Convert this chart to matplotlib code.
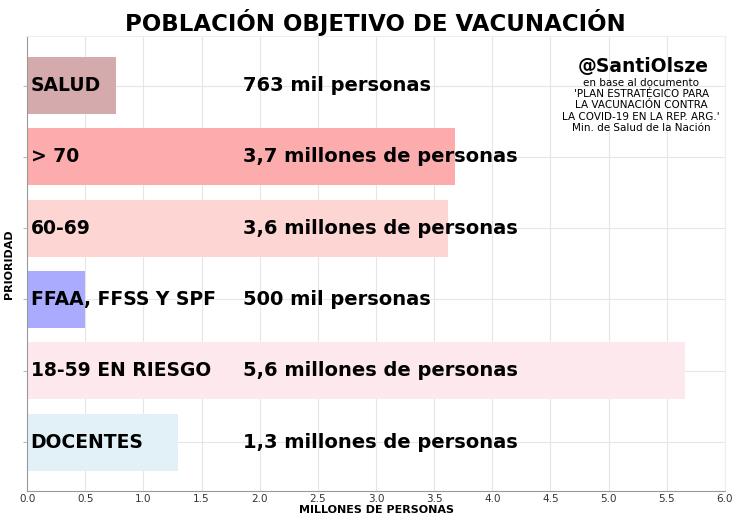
import matplotlib
matplotlib.use("Agg")
import matplotlib.pyplot as plt

categories = ["SALUD", "> 70", "60-69", "FFAA, FFSS Y SPF", "18-59 EN RIESGO", "DOCENTES"]
values = [0.763, 3.68, 3.62, 0.5, 5.66, 1.3]
value_labels = ["763 mil personas", "3,7 millones de personas", "3,6 millones de personas",
                "500 mil personas", "5,6 millones de personas", "1,3 millones de personas"]
colors = ["#d4aaac", "#fdacae", "#fdd6d4", "#aaaaff", "#fde9ed", "#e2f1f7"]
xticks = [0.0, 0.5, 1.0, 1.5, 2.0, 2.5, 3.0, 3.5, 4.0, 4.5, 5.0, 5.5, 6.0]

fig = plt.figure(figsize=(7.33, 5.15), dpi=100)
ax = fig.add_axes([0.037, 0.046, 0.952, 0.8835])

ypos = list(range(len(categories)))
ax.barh(ypos, values, height=0.8, color=colors, zorder=2)
ax.invert_yaxis()
ax.set_xlim(0, 6)
ax.set_xticks(xticks)
ax.set_xticklabels([f"{t:.1f}" for t in xticks], fontsize=7.5, color="#333333")
ax.set_yticks(ypos)
ax.set_yticklabels([])
ax.tick_params(axis="y", length=3, color="#bbbbbb")
ax.tick_params(axis="x", length=0, pad=2)
ax.grid(True, color="#e6e6e6", linewidth=0.8, zorder=0)
ax.set_axisbelow(True)
for s in ["top", "right"]:
    ax.spines[s].set_color("#eeeeee")
for s in ["left", "bottom"]:
    ax.spines[s].set_color("#999999")

for y, cat, lab in zip(ypos, categories, value_labels):
    ax.text(0.03, y, cat, va="center", ha="left", fontsize=13.5, fontweight="bold", zorder=3)
    ax.text(1.86, y, lab, va="center", ha="left", fontsize=14, fontweight="bold", zorder=3)

ax.set_xlabel("MILLONES DE PERSONAS", fontsize=8, fontweight="bold", labelpad=1)
ax.set_ylabel("PRIORIDAD", fontsize=8, fontweight="bold", labelpad=3)

fig.text(0.512, 0.957, "POBLACIÓN OBJETIVO DE VACUNACIÓN", ha="center", va="center",
         fontsize=16.5, fontweight="bold")

ax.text(5.3, -0.26, "@SantiOlsze", ha="center", va="center", fontsize=13.5, fontweight="bold")
ax.text(5.28, 0.28, "en base al documento\n'PLAN ESTRATÉGICO PARA\nLA VACUNACIÓN CONTRA\nLA COVID-19 EN LA REP. ARG.'\nMin. de Salud de la Nación",
        ha="center", va="center", fontsize=7.5, linespacing=1.15)

fig.savefig("out.png", dpi=100)
